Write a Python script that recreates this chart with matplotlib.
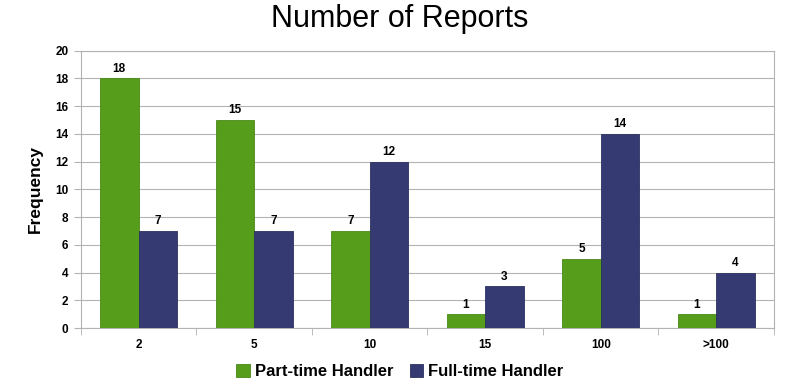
import matplotlib.pyplot as plt
import numpy as np

plt.rcParams['font.family'] = ['Liberation Sans', 'DejaVu Sans']

categories = ["2", "5", "10", "15", "100", ">100"]
part_time = [18, 15, 7, 1, 5, 1]
full_time = [7, 7, 12, 3, 14, 4]

green = "#579d1c"
blue = "#353b72"

fig = plt.figure(figsize=(8, 3.83), dpi=100)
ax = fig.add_axes([0.101, 0.1436, 0.8665, 0.7245])

x = np.arange(len(categories))
w = 1 / 3
b1 = ax.bar(x - w / 2, part_time, w, color=green, edgecolor="#4a8a17", linewidth=0.6,
            label="Part-time Handler", zorder=3)
b2 = ax.bar(x + w / 2, full_time, w, color=blue, edgecolor="#2b3160", linewidth=0.6,
            label="Full-time Handler", zorder=3)

for bars in (b1, b2):
    for r in bars:
        ax.text(r.get_x() + r.get_width() / 2, r.get_height() + 0.25, str(int(r.get_height())),
                ha="center", va="bottom", fontsize=8.5, fontweight="bold")

ax.set_xlim(-0.5, len(categories) - 0.5)
ax.set_ylim(0, 20)
ax.set_yticks(range(0, 21, 2))
ax.set_xticks(x)
ax.set_xticklabels(categories)
ax.set_xticks(np.arange(-0.5, len(categories)), minor=True)
ax.tick_params(axis="x", which="major", length=0, pad=8)
ax.tick_params(axis="x", which="minor", length=5, color="#b3b3b3")
ax.tick_params(axis="y", length=5, color="#b3b3b3", pad=4)
for lab in ax.get_xticklabels() + ax.get_yticklabels():
    lab.set_fontsize(8.5)
    lab.set_fontweight("bold")

ax.grid(axis="y", color="#b3b3b3", linewidth=0.8, zorder=0)
for s in ax.spines.values():
    s.set_color("#b3b3b3")
    s.set_linewidth(0.8)

ax.set_ylabel("Frequency", fontsize=12.5, fontweight="bold", labelpad=9)
fig.suptitle("Number of Reports", fontsize=22, y=0.99)

leg = fig.legend(loc="lower center", bbox_to_anchor=(0.5, -0.03), ncol=2, frameon=False,
                 prop={"size": 12, "weight": "bold"}, handlelength=0.8, handleheight=0.8,
                 handletextpad=0.3, columnspacing=1.0)

fig.savefig("out.png", dpi=100)
